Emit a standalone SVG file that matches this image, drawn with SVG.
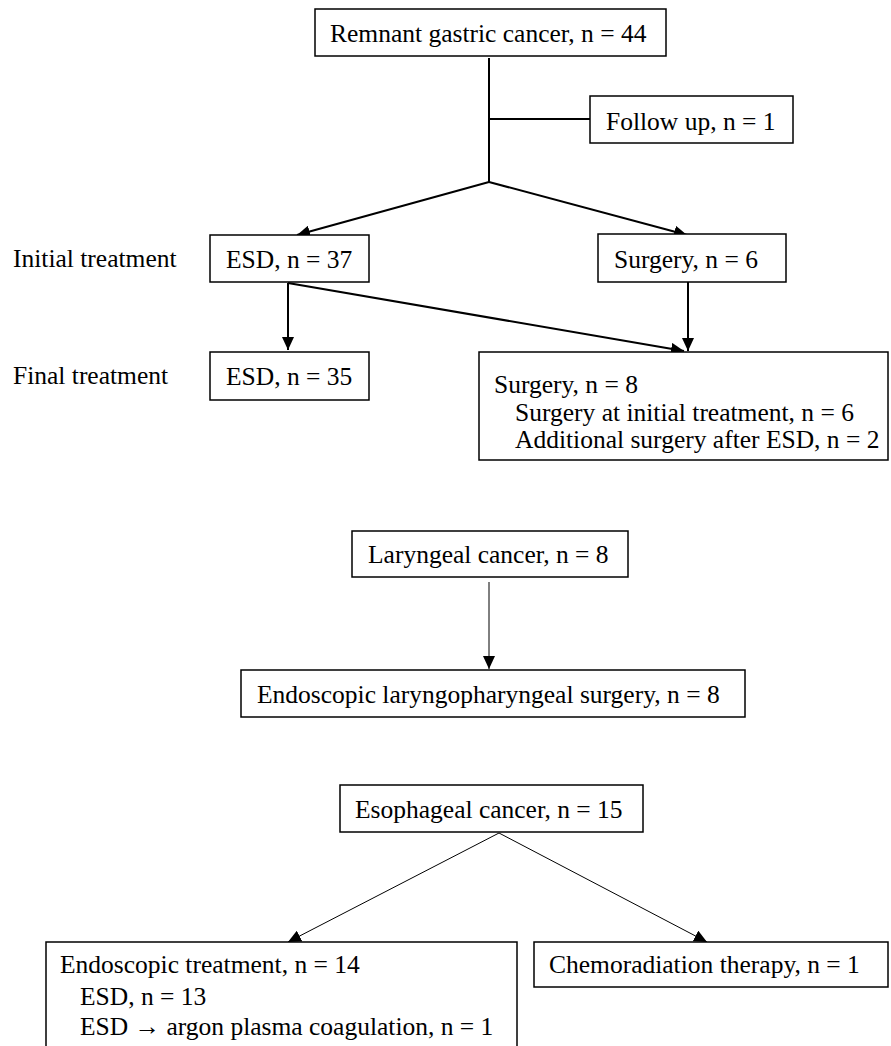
<svg xmlns="http://www.w3.org/2000/svg" width="891" height="1046" viewBox="0 0 891 1046">
<style>
.box{fill:#fff;stroke:#000;stroke-width:1.5}
text{font-family:'Liberation Serif','Times New Roman',serif;font-size:25.5px;fill:#000}
.thick{fill:none;stroke:#000;stroke-width:2}
.thin{fill:none;stroke:#000;stroke-width:1}
</style>
<defs>
<marker id="ah" markerUnits="userSpaceOnUse" markerWidth="14" markerHeight="12" refX="13" refY="6" orient="auto" viewBox="0 0 14 12"><path d="M0,0 L13,6 L0,12 z" fill="#000"/></marker>
</defs>
<rect width="891" height="1046" fill="#fff"/>
<g id="connectors">
<path class="thick" d="M489,58 V182"/>
<path class="thick" d="M489,119 H590"/>
<path class="thick" d="M489,182 L297,235" marker-end="url(#ah)"/>
<path class="thick" d="M489,182 L687,235" marker-end="url(#ah)"/>
<path class="thick" d="M288,283 V350" marker-end="url(#ah)"/>
<path class="thick" d="M288,283 L684,351" marker-end="url(#ah)"/>
<path class="thick" d="M688,282 V351" marker-end="url(#ah)"/>
<path class="thin" d="M489,582 V669" marker-end="url(#ah)"/>
<path class="thin" d="M499,833 L288,942" marker-end="url(#ah)"/>
<path class="thin" d="M499,833 L707,942" marker-end="url(#ah)"/>
</g>
<g id="lbl-initial"><text x="13" y="267">Initial treatment</text></g>
<g id="lbl-final"><text x="13" y="384">Final treatment</text></g>
<g id="remnant"><rect class="box" x="315" y="9" width="351" height="47"/><text x="330" y="42">Remnant gastric cancer, n = 44</text></g>
<g id="followup"><rect class="box" x="590" y="96" width="203" height="47"/><text x="606" y="130">Follow up, n = 1</text></g>
<g id="esd37"><rect class="box" x="210" y="235" width="159" height="47"/><text x="226" y="268">ESD, n = 37</text></g>
<g id="surgery6"><rect class="box" x="598" y="234" width="188" height="48"/><text x="614" y="268">Surgery, n = 6</text></g>
<g id="esd35"><rect class="box" x="210" y="352" width="159" height="48"/><text x="226" y="385">ESD, n = 35</text></g>
<g id="surgery8"><rect class="box" x="479" y="352" width="409" height="108"/>
<text x="494" y="393">Surgery, n = 8</text>
<text x="515" y="421">Surgery at initial treatment, n = 6</text>
<text x="515" y="448">Additional surgery after ESD, n = 2</text></g>
<g id="laryngeal"><rect class="box" x="352" y="531" width="276" height="46"/><text x="368" y="563">Laryngeal cancer, n = 8</text></g>
<g id="elps"><rect class="box" x="241" y="670" width="504" height="47"/><text x="257" y="703">Endoscopic laryngopharyngeal surgery, n = 8</text></g>
<g id="esophageal"><rect class="box" x="340" y="785" width="303" height="47"/><text x="355" y="818">Esophageal cancer, n = 15</text></g>
<g id="endo"><rect class="box" x="46" y="942" width="471" height="110"/>
<text x="60" y="973">Endoscopic treatment, n  = 14</text>
<text x="80" y="1005">ESD, n = 13</text>
<text x="80" y="1035">ESD → argon plasma coagulation, n = 1</text></g>
<g id="chemo"><rect class="box" x="534" y="942" width="354" height="45"/><text x="549" y="973">Chemoradiation therapy, n = 1</text></g>
</svg>
